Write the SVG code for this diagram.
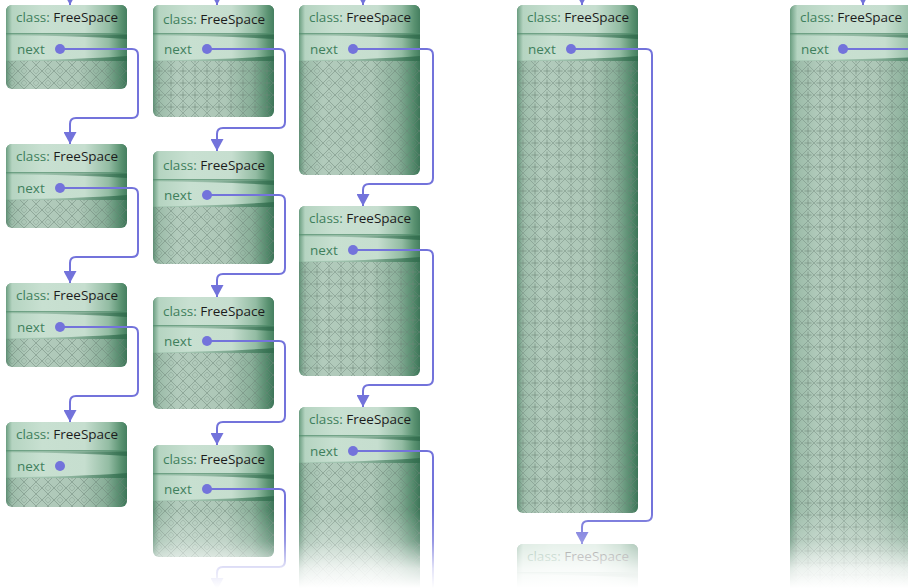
<svg xmlns="http://www.w3.org/2000/svg" width="908" height="588" viewBox="0 0 908 588">
<style>
.body{fill:url(#gBody)}
.pa{fill:url(#pa)}
.pb{fill:url(#pb)}
.t{font-family:"Open Sans","Noto Sans","Liberation Sans",sans-serif;font-size:13.5px}
.k{fill:#3f7f5c}
.v{fill:#1c1c1c}
.dot{fill:#7373db}
.con path{fill:none;stroke:#7373db;stroke-width:2;marker-end:url(#ah)}
.con path.nm{marker-end:none}
</style>
<defs>
<linearGradient id="gBody" x1="0" y1="0" x2="1" y2="0">
<stop offset="0" stop-color="#5e8f74"/>
<stop offset="0.05" stop-color="#9cbca9"/>
<stop offset="0.2" stop-color="#b2cbbc"/>
<stop offset="0.6" stop-color="#adc7b7"/>
<stop offset="0.82" stop-color="#88ae98"/>
<stop offset="0.94" stop-color="#558b6d"/>
<stop offset="1" stop-color="#3d7558"/>
</linearGradient>
<linearGradient id="gHead" x1="0" y1="0" x2="1" y2="0">
<stop offset="0" stop-color="#6a9d80"/>
<stop offset="0.05" stop-color="#b5d4c1"/>
<stop offset="0.3" stop-color="#c8e0d1"/>
<stop offset="0.65" stop-color="#c6decf"/>
<stop offset="0.85" stop-color="#93bca3"/>
<stop offset="0.95" stop-color="#5a9271"/>
<stop offset="1" stop-color="#457f60"/>
</linearGradient>
<linearGradient id="gShade" x1="0" y1="0" x2="1" y2="0">
<stop offset="0" stop-color="#3e7a5a" stop-opacity="0.1"/>
<stop offset="0.5" stop-color="#3e7a5a" stop-opacity="0.4"/>
<stop offset="1" stop-color="#2f6a4b" stop-opacity="0.85"/>
</linearGradient>
<linearGradient id="gFade" x1="0" y1="0" x2="0" y2="1">
<stop offset="0" stop-color="#fff" stop-opacity="0"/>
<stop offset="0.4" stop-color="#fff" stop-opacity="0.25"/>
<stop offset="0.75" stop-color="#fff" stop-opacity="0.8"/>
<stop offset="1" stop-color="#fff" stop-opacity="1"/>
</linearGradient>
<pattern id="pa" width="12" height="12" patternUnits="userSpaceOnUse">
<path d="M0,6 L6,0 L12,6 L6,12 Z" fill="none" stroke="#6c8377" stroke-width="0.8" opacity="0.6"/>
<path d="M6,3 L9,6 L6,9 L3,6 Z" fill="none" stroke="#6c8377" stroke-width="0.6" opacity="0.45"/>
</pattern>
<pattern id="pb" width="12" height="12" patternUnits="userSpaceOnUse">
<path d="M0,6 L6,0 L12,6 L6,12 Z" fill="none" stroke="#6c8377" stroke-width="0.8" opacity="0.55"/>
<path d="M6,2.5 V9.5 M2.5,6 H9.5" fill="none" stroke="#6c8377" stroke-width="1" opacity="0.6"/>
</pattern>
<marker id="ah" markerUnits="userSpaceOnUse" markerWidth="13" markerHeight="13" refX="12" refY="6.5" orient="auto" viewBox="0 0 12 13">
<path d="M0,0 L12,6.5 L0,13 Z" fill="#7373db"/>
</marker>
<g id="hdr">
<path d="M0,6 A6,6 0 0 1 6,0 H115 A6,6 0 0 1 121,6 V29 H0 Z" fill="url(#gHead)"/>
<rect y="29" width="121" height="27" fill="url(#gHead)"/>
<rect y="28" width="121" height="1.4" fill="#4f8a69" opacity="0.7"/>
<path d="M0,29.4 H121 V34 Q70,30.8 0,30.6 Z" fill="url(#gShade)"/>
<path d="M0,56 H121 V51 Q70,54.8 0,55.2 Z" fill="url(#gShade)"/>
</g>
</defs>
<rect width="908" height="588" fill="#fff"/>

<g id="nodes">
<g id="c1n1" transform="translate(6,5)">
<rect class="body" width="121" height="84" rx="6"/><rect class="pa" y="50" width="121" height="34" rx="6"/><use href="#hdr"/>
<text class="t" x="10" y="17"><tspan class="k">class: </tspan><tspan class="v">FreeSpace</tspan></text>
<text class="t k" x="11" y="48.5">next</text><circle class="dot" cx="54" cy="44" r="5"/>
</g>
<g id="c1n2" transform="translate(6,144)">
<rect class="body" width="121" height="84" rx="6"/><rect class="pa" y="50" width="121" height="34" rx="6"/><use href="#hdr"/>
<text class="t" x="10" y="17"><tspan class="k">class: </tspan><tspan class="v">FreeSpace</tspan></text>
<text class="t k" x="11" y="48.5">next</text><circle class="dot" cx="54" cy="44" r="5"/>
</g>
<g id="c1n3" transform="translate(6,283)">
<rect class="body" width="121" height="84" rx="6"/><rect class="pa" y="50" width="121" height="34" rx="6"/><use href="#hdr"/>
<text class="t" x="10" y="17"><tspan class="k">class: </tspan><tspan class="v">FreeSpace</tspan></text>
<text class="t k" x="11" y="48.5">next</text><circle class="dot" cx="54" cy="44" r="5"/>
</g>
<g id="c1n4" transform="translate(6,422)">
<rect class="body" width="121" height="85" rx="6"/><rect class="pa" y="50" width="121" height="35" rx="6"/><use href="#hdr"/>
<text class="t" x="10" y="17"><tspan class="k">class: </tspan><tspan class="v">FreeSpace</tspan></text>
<text class="t k" x="11" y="48.5">next</text><circle class="dot" cx="54" cy="44" r="5"/>
</g>

<g id="c2n1" transform="translate(153,5)">
<rect class="body" width="121" height="112" rx="6"/><rect class="pb" y="50" width="121" height="62" rx="6"/><use href="#hdr"/>
<text class="t" x="10" y="18.5"><tspan class="k">class: </tspan><tspan class="v">FreeSpace</tspan></text>
<text class="t k" x="11" y="48.5">next</text><circle class="dot" cx="54" cy="44" r="5"/>
</g>
<g id="c2n2" transform="translate(153,151)">
<rect class="body" width="121" height="113" rx="6"/><rect class="pa" y="50" width="121" height="63" rx="6"/><use href="#hdr"/>
<text class="t" x="10" y="18.5"><tspan class="k">class: </tspan><tspan class="v">FreeSpace</tspan></text>
<text class="t k" x="11" y="48.5">next</text><circle class="dot" cx="54" cy="44" r="5"/>
</g>
<g id="c2n3" transform="translate(153,297)">
<rect class="body" width="121" height="112" rx="6"/><rect class="pa" y="50" width="121" height="62" rx="6"/><use href="#hdr"/>
<text class="t" x="10" y="18.5"><tspan class="k">class: </tspan><tspan class="v">FreeSpace</tspan></text>
<text class="t k" x="11" y="48.5">next</text><circle class="dot" cx="54" cy="44" r="5"/>
</g>
<g id="c2n4" transform="translate(153,445)">
<rect class="body" width="121" height="112" rx="6"/><rect class="pa" y="50" width="121" height="62" rx="6"/><use href="#hdr"/>
<text class="t" x="10" y="18.5"><tspan class="k">class: </tspan><tspan class="v">FreeSpace</tspan></text>
<text class="t k" x="11" y="48.5">next</text><circle class="dot" cx="54" cy="44" r="5"/>
</g>

<g id="c3n1" transform="translate(299,5)">
<rect class="body" width="121" height="170" rx="6"/><rect class="pa" y="50" width="121" height="120" rx="6"/><use href="#hdr"/>
<text class="t" x="10" y="17"><tspan class="k">class: </tspan><tspan class="v">FreeSpace</tspan></text>
<text class="t k" x="11" y="48.5">next</text><circle class="dot" cx="54" cy="44" r="5"/>
</g>
<g id="c3n2" transform="translate(299,206)">
<rect class="body" width="121" height="170" rx="6"/><rect class="pb" y="50" width="121" height="120" rx="6"/><use href="#hdr"/>
<text class="t" x="10" y="17"><tspan class="k">class: </tspan><tspan class="v">FreeSpace</tspan></text>
<text class="t k" x="11" y="48.5">next</text><circle class="dot" cx="54" cy="44" r="5"/>
</g>
<g id="c3n3" transform="translate(299,407)">
<rect class="body" width="121" height="200" rx="6"/><rect class="pa" y="50" width="121" height="150" rx="6"/><use href="#hdr"/>
<text class="t" x="10" y="17"><tspan class="k">class: </tspan><tspan class="v">FreeSpace</tspan></text>
<text class="t k" x="11" y="48.5">next</text><circle class="dot" cx="54" cy="44" r="5"/>
</g>

<g id="c4n1" transform="translate(517,5)">
<rect class="body" width="121" height="508" rx="6"/><rect class="pb" y="50" width="121" height="458" rx="6"/><use href="#hdr"/>
<text class="t" x="10" y="17"><tspan class="k">class: </tspan><tspan class="v">FreeSpace</tspan></text>
<text class="t k" x="11" y="48.5">next</text><circle class="dot" cx="54" cy="44" r="5"/>
</g>
<g id="c4n2" transform="translate(517,544)" opacity="0.6">
<rect class="body" width="121" height="60" rx="6"/><use href="#hdr"/>
<text class="t" x="10" y="17"><tspan class="k">class: </tspan><tspan class="v">FreeSpace</tspan></text>
</g>

<g id="c5n1" transform="translate(790,5)">
<rect class="body" width="146" height="600" rx="6"/><rect class="pb" y="50" width="146" height="550" rx="6"/><use href="#hdr" transform="scale(1.2066,1)"/>
<text class="t" x="10" y="17"><tspan class="k">class: </tspan><tspan class="v">FreeSpace</tspan></text>
<text class="t k" x="11" y="48.5">next</text><circle class="dot" cx="53" cy="44" r="5"/>
</g>
</g>

<g id="connectors" class="con">
<path d="M70,-14 V5"/>
<path d="M217,-14 V5"/>
<path d="M363,-14 V5"/>
<path d="M582,-14 V5"/>
<path d="M863,-14 V5"/>
<path d="M60,49 H132 Q138,49 138,55 V112 Q138,118 132,118 H76 Q70,118 70,124 V144"/>
<path d="M60,188 H132 Q138,188 138,194 V251 Q138,257 132,257 H76 Q70,257 70,263 V283"/>
<path d="M60,327 H132 Q138,327 138,333 V390 Q138,396 132,396 H76 Q70,396 70,402 V422"/>
<path d="M207,49 H279 Q285,49 285,55 V122 Q285,128 279,128 H223 Q217,128 217,134 V151"/>
<path d="M207,195 H279 Q285,195 285,201 V268 Q285,274 279,274 H223 Q217,274 217,280 V297"/>
<path d="M207,341 H279 Q285,341 285,347 V416 Q285,422 279,422 H223 Q217,422 217,428 V445"/>
<path d="M207,489 H279 Q285,489 285,495 V561 Q285,567 279,567 H223 Q217,567 217,573 V590"/>
<path d="M353,49 H427 Q433,49 433,55 V178 Q433,184 427,184 H369 Q363,184 363,190 V206"/>
<path d="M353,250 H427 Q433,250 433,256 V379 Q433,385 427,385 H369 Q363,385 363,391 V407"/>
<path class="nm" d="M353,451 H427 Q433,451 433,457 V600"/>
<path d="M571,49 H646 Q652,49 652,55 V515 Q652,521 646,521 H588 Q582,521 582,527 V544"/>
<path class="nm" d="M843,49 H920"/>
</g>

<rect x="0" y="510" width="908" height="78" fill="url(#gFade)"/>
</svg>
